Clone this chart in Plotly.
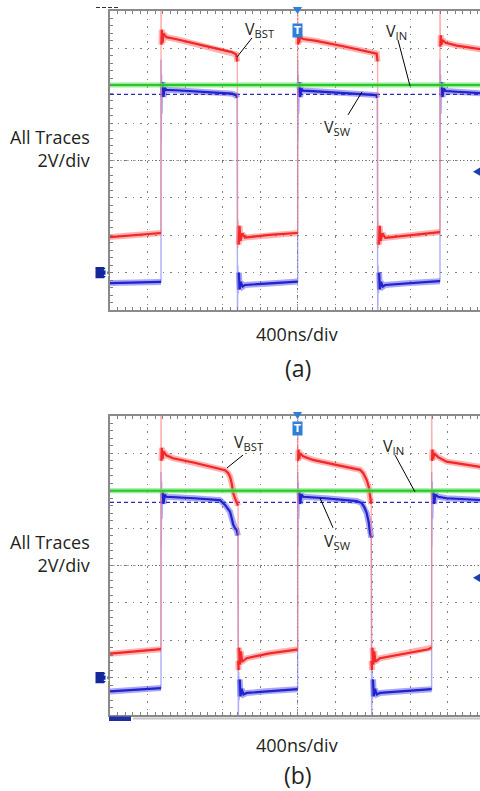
import plotly.graph_objects as go

W, H = 480, 791

# ---------------- data (time in ns, 400 ns/div; volts, 2 V/div) ----------------
X_RANGE = [0, 3946.7]
Y_RANGE = [-2, 14]

# Panel (a)
A_BST_T = [0, 533, 544, 544, 548, 553, 560, 570, 600, 700, 1000, 1300, 1345, 1358,
           1362, 1367, 1373, 1381, 1392, 1410, 1440, 1700, 1991,
           2002, 2002, 2006, 2011, 2018, 2028, 2060, 2200, 2500, 2800, 2845, 2854,
           2858, 2863, 2869, 2877, 2888, 2906, 2936, 3200, 3509,
           3520, 3520, 3524, 3529, 3536, 3546, 3580, 3700, 3960]
A_BST_V = [1.90, 2.12, 2.12, 15.0, 12.2, 13.0, 12.3, 12.8, 12.6, 12.5, 12.15, 11.8, 11.68, 11.3,
           1.3, 2.8, 1.5, 2.5, 1.7, 2.1, 1.88, 2.02, 2.12,
           2.12, 15.0, 12.2, 12.9, 12.3, 12.6, 12.5, 12.4, 12.1, 11.8, 11.72, 11.3,
           1.3, 2.75, 1.5, 2.5, 1.7, 2.1, 1.86, 2.0, 2.17,
           2.17, 15.0, 12.1, 12.7, 12.2, 12.45, 12.3, 12.15, 11.95]

A_SW_T = [0, 533, 544, 544, 547, 551, 556, 562, 570, 585, 600, 700, 1000, 1300, 1345, 1355,
          1360, 1364, 1369, 1375, 1383, 1395, 1415, 1440, 1700, 1991,
          2002, 2002, 2005, 2009, 2014, 2020, 2028, 2043, 2060, 2200, 2500, 2800, 2840, 2850,
          2856, 2860, 2865, 2871, 2879, 2891, 2911, 2936, 3200, 3509,
          3520, 3520, 3523, 3527, 3532, 3538, 3546, 3561, 3580, 3700, 3960]
A_SW_V = [-0.56, -0.50, -0.50, 11.4, 7.0, 10.6, 8.5, 10.2, 9.4, 9.9, 9.78, 9.76, 9.68, 9.58, 9.5, 9.35,
          -2.5, 0.4, -1.1, 0.0, -0.9, -0.5, -0.75, -0.66, -0.58, -0.48,
          -0.48, 11.4, 7.1, 10.6, 8.5, 10.2, 9.4, 9.85, 9.74, 9.7, 9.62, 9.52, 9.5, 9.35,
          -2.5, 0.4, -1.1, 0.0, -0.9, -0.5, -0.75, -0.66, -0.55, -0.46,
          -0.46, 11.4, 7.1, 10.6, 8.5, 10.2, 9.4, 9.85, 9.72, 9.68, 9.6]

A_IN_T = [0, 3960]
A_IN_V = [10.04, 10.04]
A_CURSOR_V = 9.54
A_TRIG_V = 5.4

# Panel (b)
B_BST_T = [0, 533, 544, 544, 548, 553, 560, 570, 600, 672, 900, 1173, 1227, 1260, 1280, 1298,
           1315, 1333, 1351, 1366,
           1369, 1372, 1378, 1386, 1396, 1410, 1458, 1700, 1991,
           2002, 2002, 2006, 2011, 2018, 2028, 2060, 2165, 2400, 2667, 2700, 2738, 2760,
           2773, 2787,
           2791, 2794, 2800, 2808, 2818, 2832, 2880, 3150, 3396, 3425,
           3431, 3431, 3435, 3440, 3447, 3457, 3500, 3591, 3960]
B_BST_V = [1.28, 1.52, 1.52, 15.0, 11.6, 12.3, 11.7, 12.1, 11.9, 11.74, 11.5, 11.2, 11.1, 10.95, 10.76, 10.4,
           9.86, 9.6, 9.42, 9.2,
           0.9, 0.4, 1.6, 0.7, 1.4, 0.85, 1.04, 1.3, 1.5,
           1.5, 15.0, 11.6, 12.2, 11.7, 12.0, 11.85, 11.65, 11.4, 11.12, 10.95, 10.58, 10.2,
           9.68, 9.3,
           0.9, 0.4, 1.6, 0.7, 1.4, 0.85, 1.04, 1.3, 1.52, 1.6,
           1.6, 15.0, 11.6, 12.2, 11.7, 12.0, 11.8, 11.56, 11.27]

B_SW_T = [0, 533, 544, 544, 547, 551, 556, 562, 570, 585, 600, 900, 1173, 1227, 1280, 1300,
          1315, 1333, 1351, 1364,
          1369, 1373, 1378, 1384, 1392, 1404, 1424, 1458, 1700, 1973,
          2002, 2002, 2005, 2009, 2014, 2020, 2028, 2043, 2060, 2300, 2590, 2631, 2685, 2715,
          2738, 2760, 2773, 2787,
          2791, 2795, 2800, 2806, 2814, 2826, 2846, 2880, 3150, 3396,
          3431, 3431, 3434, 3438, 3443, 3449, 3457, 3472, 3500, 3591, 3960]
B_SW_V = [-0.74, -0.56, -0.56, 11.0, 7.0, 10.5, 8.5, 10.0, 9.3, 9.8, 9.68, 9.6, 9.5, 9.24, 8.88, 8.5,
          8.18, 8.0, 7.9, 7.6,
          -2.5, 0.3, -1.2, -0.1, -1.0, -0.6, -0.9, -0.82, -0.72, -0.62,
          -0.62, 11.0, 7.0, 10.5, 8.5, 10.0, 9.3, 9.8, 9.68, 9.6, 9.5, 9.45, 9.34, 9.1,
          8.8, 8.3, 7.74, 7.5,
          -2.5, 0.3, -1.2, -0.1, -1.0, -0.6, -0.9, -0.82, -0.72, -0.62,
          -0.62, 11.0, 7.0, 10.5, 8.5, 10.0, 9.3, 9.8, 9.68, 9.6, 9.5]

B_IN_T = [0, 3960]
B_IN_V = [10.0, 10.0]
B_CURSOR_V = 9.38
B_TRIG_V = 5.34

assert len(A_BST_T) == len(A_BST_V) and len(A_SW_T) == len(A_SW_V)
assert len(B_BST_T) == len(B_BST_V) and len(B_SW_T) == len(B_SW_V)

# ---------------- styling ----------------
RED_CORE, RED_HALO, RED_EDGE = "rgb(242,40,40)", "rgba(255,85,85,0.45)", "rgba(255,120,120,0.6)"
BLU_CORE, BLU_HALO, BLU_EDGE = "rgb(34,34,205)", "rgba(60,60,230,0.45)", "rgba(120,120,240,0.6)"
GRN_CORE, GRN_HALO = "rgb(40,200,40)", "rgba(110,225,110,0.7)"
TEXT = "#231f20"
FONT = "Open Sans"


def plateau(t, v, jump=1.0, fast=40):
    """Break the line at fast edges so that plateaus can be drawn strong."""
    xs, ys = [t[0]], [v[0]]
    for i in range(1, len(t)):
        if abs(v[i] - v[i - 1]) > jump and (t[i] - t[i - 1]) < fast:
            xs.append(None)
            ys.append(None)
        xs.append(t[i])
        ys.append(v[i])
    return xs, ys


fig = go.Figure()


def add_channel(t, v, core, halo, edge, xa, ya):
    fig.add_trace(go.Scatter(x=t, y=v, mode="lines", line=dict(color=edge, width=1.4),
                             xaxis=xa, yaxis=ya, hoverinfo="skip", showlegend=False))
    px, py = plateau(t, v)
    fig.add_trace(go.Scatter(x=px, y=py, mode="lines", line=dict(color=halo, width=6),
                             xaxis=xa, yaxis=ya, hoverinfo="skip", showlegend=False,
                             connectgaps=False))
    fig.add_trace(go.Scatter(x=px, y=py, mode="lines", line=dict(color=core, width=2.2),
                             xaxis=xa, yaxis=ya, hoverinfo="skip", showlegend=False,
                             connectgaps=False))


def add_panel(xa, ya, bst_t, bst_v, sw_t, sw_v, in_t, in_v, cursor_v):
    fig.add_trace(go.Scatter(x=[X_RANGE[0], X_RANGE[1] + 50], y=[cursor_v, cursor_v], mode="lines",
                             line=dict(color="rgb(40,40,190)", width=1.3, dash="4px,3px"),
                             xaxis=xa, yaxis=ya, hoverinfo="skip", showlegend=False))
    add_channel(sw_t, sw_v, BLU_CORE, BLU_HALO, BLU_EDGE, xa, ya)
    add_channel(bst_t, bst_v, RED_CORE, RED_HALO, RED_EDGE, xa, ya)
    fig.add_trace(go.Scatter(x=in_t, y=in_v, mode="lines", line=dict(color=GRN_HALO, width=5),
                             xaxis=xa, yaxis=ya, hoverinfo="skip", showlegend=False))
    fig.add_trace(go.Scatter(x=in_t, y=in_v, mode="lines", line=dict(color=GRN_CORE, width=2),
                             xaxis=xa, yaxis=ya, hoverinfo="skip", showlegend=False))


add_panel("x", "y", A_BST_T, A_BST_V, A_SW_T, A_SW_V, A_IN_T, A_IN_V, A_CURSOR_V)
add_panel("x2", "y2", B_BST_T, B_BST_V, B_SW_T, B_SW_V, B_IN_T, B_IN_V, B_CURSOR_V)


def px_x(p):
    return p / W


def px_y(p):
    return 1 - p / H


common_x = dict(range=X_RANGE, showticklabels=False, showgrid=True, gridcolor="#808080",
                griddash="1.5px,6px", gridwidth=1, zeroline=False, showline=True,
                linecolor="#8a8a8a", linewidth=2, mirror="ticks", ticks="inside", ticklen=3,
                tickcolor="#808080", dtick=400, tick0=0,
                minor=dict(ticks="inside", ticklen=3, dtick=80, tick0=0, tickcolor="#808080",
                           showgrid=False))
common_y = dict(range=Y_RANGE, showticklabels=False, showgrid=True, gridcolor="#808080",
                griddash="1.5px,6px", gridwidth=1, zeroline=False, showline=True,
                linecolor="#8a8a8a", linewidth=2, mirror=False, ticks="inside", ticklen=3,
                tickcolor="#808080", dtick=2, tick0=0,
                minor=dict(ticks="inside", ticklen=3, dtick=0.4, tick0=0, tickcolor="#808080",
                           showgrid=False))

A_TOP, A_BOT = 11, 310
B_TOP, B_BOT = 416, 715
LEFT = 110

fig.update_layout(
    width=W, height=H, margin=dict(l=0, r=0, t=0, b=0),
    paper_bgcolor="white", plot_bgcolor="white", showlegend=False,
    font=dict(family=FONT, color=TEXT),
    xaxis=dict(common_x, domain=[px_x(LEFT), 1], anchor="y"),
    yaxis=dict(common_y, domain=[px_y(A_BOT), px_y(A_TOP)], anchor="x"),
    xaxis2=dict(common_x, domain=[px_x(LEFT), 1], anchor="y2"),
    yaxis2=dict(common_y, domain=[px_y(B_BOT), px_y(B_TOP)], anchor="x2"),
)

shapes = []
annotations = []

panels = [
    dict(xa="x", ya="y", top=A_TOP, bot=A_BOT, trig=A_TRIG_V, tag="(a)",
         side_y=148, time_y=334, tag_y=368,
         labels=[("V<sub>BST</sub>", 1415, 13.0), ("V<sub>IN</sub>", 2920, 12.9),
                 ("V<sub>SW</sub>", 2260, 7.75)],
         leaders=[(1515, 12.56, 1355, 11.54), (3072, 12.45, 3200, 9.99),
                  (2539, 8.44, 2688, 9.67)]),
    dict(xa="x2", ya="y2", top=B_TOP, bot=B_BOT, trig=B_TRIG_V, tag="(b)",
         side_y=553, time_y=745, tag_y=775,
         labels=[("V<sub>BST</sub>", 1298, 12.58), ("V<sub>IN</sub>", 2888, 12.36),
                 ("V<sub>SW</sub>", 2260, 7.28)],
         leaders=[(1419, 11.91, 1248, 11.22), (3040, 11.91, 3253, 9.94),
                  (2379, 8.02, 2240, 9.61)]),
]

for p in panels:
    xa, ya = p["xa"], p["ya"]
    # denser centre graticule lines
    shapes.append(dict(type="line", xref=xa, yref=ya, x0=2000, x1=2000, y0=Y_RANGE[0], y1=Y_RANGE[1],
                       line=dict(color="#6a6a6a", width=1, dash="1px,2.5px"), layer="below"))
    shapes.append(dict(type="line", xref=xa, yref=ya, x0=X_RANGE[0], x1=X_RANGE[1], y0=6, y1=6,
                       line=dict(color="#6a6a6a", width=1, dash="1px,2.5px"), layer="below"))
    # leader lines
    for (x0, y0, x1, y1) in p["leaders"]:
        shapes.append(dict(type="line", xref=xa, yref=ya, x0=x0, y0=y0, x1=x1, y1=y1,
                           line=dict(color="black", width=1)))
    for (txt, x, y) in p["labels"]:
        annotations.append(dict(text=txt, x=x, y=y, xref=xa, yref=ya, xanchor="left",
                                yanchor="middle", showarrow=False,
                                font=dict(size=16, color=TEXT, family=FONT)))
    # channel 1 ground marker
    x_a, x_b, x_c = px_x(95.5), px_x(104), px_x(108.5)
    shapes.append(dict(type="path", xref="paper", yref=ya,
                       path=f"M {x_a},-0.3 L {x_b},-0.3 L {x_c},0 L {x_b},0.3 L {x_a},0.3 Z",
                       fillcolor="#15259a", line=dict(width=0)))
    annotations.append(dict(text="<b>1</b>", x=px_x(100.5), y=0, xref="paper", yref=ya,
                            showarrow=False, font=dict(size=9, color="white", family="DejaVu Sans")))
    # trigger level marker at right edge
    shapes.append(dict(type="path", xref="paper", yref=ya,
                       path=f"M {px_x(473)},{p['trig']} L {px_x(480)},{p['trig'] + 0.22} "
                            f"L {px_x(480)},{p['trig'] - 0.22} Z",
                       fillcolor="#1c3fb0", line=dict(width=0)))
    # trigger position marker "T"
    top = p["top"]
    shapes.append(dict(type="path", xref=xa, yref="paper",
                       path=f"M 1950,{px_y(top - 4)} L 2050,{px_y(top - 4)} L 2000,{px_y(top + 3)} Z",
                       fillcolor="#2f7fd8", line=dict(width=0)))
    annotations.append(dict(text="<b>T</b>", x=2000, y=px_y(top + 12), xref=xa, yref="paper",
                            showarrow=False, bgcolor="#2f7fd8", borderpad=1,
                            font=dict(size=10, color="white", family="DejaVu Sans")))
    # side and bottom texts
    annotations.append(dict(text="All Traces<br>2V/div", x=px_x(92), y=px_y(p["side_y"]),
                            xref="paper", yref="paper", xanchor="right", yanchor="middle",
                            align="right", showarrow=False,
                            font=dict(size=18, color=TEXT, family=FONT)))
    annotations.append(dict(text="400ns/div", x=px_x(297), y=px_y(p["time_y"]), xref="paper",
                            yref="paper", xanchor="center", yanchor="middle", showarrow=False,
                            font=dict(size=18, color=TEXT, family=FONT)))
    annotations.append(dict(text=p["tag"], x=px_x(298), y=px_y(p["tag_y"]), xref="paper",
                            yref="paper", xanchor="center", yanchor="middle", showarrow=False,
                            font=dict(size=23, color=TEXT, family=FONT)))

# cropped scope bits at the panel edges
shapes.append(dict(type="line", xref="paper", yref="paper", x0=px_x(96), x1=px_x(118),
                   y0=px_y(7.5), y1=px_y(7.5), line=dict(color="#333", width=1, dash="4px,2px")))
shapes.append(dict(type="rect", xref="paper", yref="paper", x0=px_x(109), x1=px_x(131),
                   y0=px_y(721), y1=px_y(716.5), fillcolor="#1f2fa0", line=dict(width=0)))
shapes.append(dict(type="line", xref="paper", yref="paper", x0=px_x(133), x1=1,
                   y0=px_y(718.5), y1=px_y(718.5), line=dict(color="#c4c4c4", width=2)))

fig.update_layout(shapes=shapes, annotations=annotations)
fig.write_html("out.html", config={"displayModeBar": False},
               post_script="document.body.style.margin='0px';document.body.style.overflow='hidden';")
